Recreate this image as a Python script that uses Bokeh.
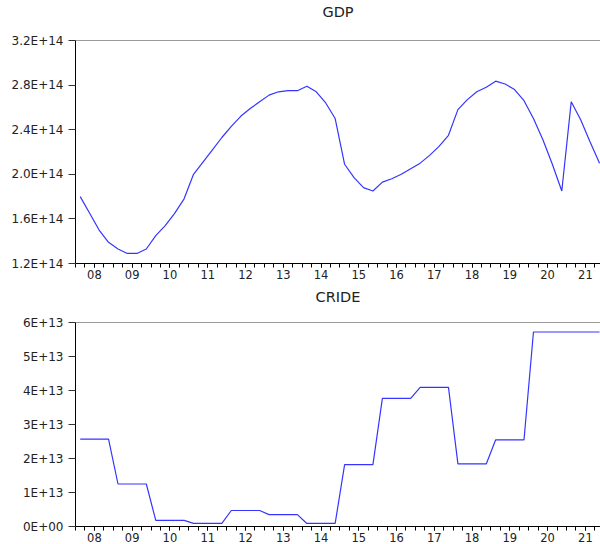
from bokeh.plotting import figure
from bokeh.layouts import column
from bokeh.models import FixedTicker, Range1d, LinearAxis, ColumnDataSource
from bokeh.embed import file_html
from bokeh.resources import INLINE

years = list(range(2008, 2022))
year_labels = ["08", "09", "10", "11", "12", "13", "14", "15", "16", "17", "18", "19", "20", "21"]
quarters = [f"{y}Q{q}" for y in years for q in range(1, 5)]

gdp = [1.80e14, 1.65e14, 1.50e14, 1.39e14, 1.33e14, 1.29e14, 1.29e14, 1.33e14,
       1.45e14, 1.54e14, 1.65e14, 1.78e14, 2.00e14, 2.11e14, 2.22e14, 2.33e14,
       2.43e14, 2.52e14, 2.59e14, 2.65e14, 2.71e14, 2.74e14, 2.75e14, 2.75e14,
       2.79e14, 2.74e14, 2.64e14, 2.50e14, 2.09e14, 1.97e14, 1.88e14, 1.85e14,
       1.93e14, 1.96e14, 2.00e14, 2.05e14, 2.10e14, 2.17e14, 2.25e14, 2.35e14,
       2.58e14, 2.67e14, 2.74e14, 2.78e14, 2.835e14, 2.81e14, 2.76e14, 2.66e14,
       2.50e14, 2.31e14, 2.09e14, 1.85e14, 2.65e14, 2.49e14, 2.29e14, 2.10e14]

cride = [2.57e13, 2.57e13, 2.57e13, 2.57e13, 1.25e13, 1.25e13, 1.25e13, 1.25e13,
         0.18e13, 0.18e13, 0.18e13, 0.18e13, 0.09e13, 0.09e13, 0.09e13, 0.09e13,
         0.47e13, 0.47e13, 0.47e13, 0.47e13, 0.35e13, 0.35e13, 0.35e13, 0.35e13,
         0.09e13, 0.09e13, 0.09e13, 0.09e13, 1.82e13, 1.82e13, 1.82e13, 1.82e13,
         3.77e13, 3.77e13, 3.77e13, 3.77e13, 4.09e13, 4.09e13, 4.09e13, 4.09e13,
         1.84e13, 1.84e13, 1.84e13, 1.84e13, 2.55e13, 2.55e13, 2.55e13, 2.55e13,
         5.72e13, 5.72e13, 5.72e13, 5.72e13, 5.72e13, 5.72e13, 5.72e13, 5.72e13]

gdp_ticks = [1.2e14, 1.6e14, 2.0e14, 2.4e14, 2.8e14, 3.2e14]
gdp_tick_labels = ["1.2E+14", "1.6E+14", "2.0E+14", "2.4E+14", "2.8E+14", "3.2E+14"]
cride_ticks = [0.0, 1e13, 2e13, 3e13, 4e13, 5e13, 6e13]
cride_tick_labels = ["0E+00", "1E+13", "2E+13", "3E+13", "4E+13", "5E+13", "6E+13"]

# time positions (middle of each quarter)
xpos = [int(s[:4]) + (int(s[5]) - 0.5) / 4 for s in quarters]
year_centers = [y + 0.5 for y in years]
quarter_bounds = [y + k / 4 for y in years for k in range(4)]

FONT = "DejaVu Sans"
LINE = "#3535ff"


def make_panel(title, values, yticks, ylabels, ymin, ymax, height, left, top, gap):
    src = ColumnDataSource(dict(x=xpos, v=values, q=quarters))
    p = figure(width=600, height=height, output_backend="svg", toolbar_location=None,
               x_range=Range1d(2008.0, 2021.9), y_range=Range1d(ymin, ymax),
               min_border_left=left, min_border_right=0, min_border_top=top,
               min_border_bottom=0, background_fill_color="white",
               border_fill_color="white")
    p.line("x", "v", source=src, line_color=LINE, line_width=1.2)
    p.grid.visible = False
    p.outline_line_color = None

    p.title.text = title
    p.title.align = "center"
    p.title.text_font = FONT
    p.title.text_font_size = "14.5px"
    p.title.text_font_style = "normal"
    p.title.text_color = "#222222"
    p.title.standoff = 0
    p.title.offset = 1

    xa = p.xaxis[0]
    xa.ticker = FixedTicker(ticks=year_centers, minor_ticks=quarter_bounds)
    xa.major_label_overrides = {c: l for c, l in zip(year_centers, year_labels)}
    xa.major_tick_out = 4
    xa.major_tick_in = 0
    xa.minor_tick_out = 4
    xa.minor_tick_in = 0
    xa.axis_line_color = "black"
    xa.major_tick_line_color = "black"
    xa.minor_tick_line_color = "black"
    xa.major_label_text_font = FONT
    xa.major_label_text_font_size = "11.5px"
    xa.major_label_text_color = "#222222"
    xa.major_label_standoff = 2

    ya = p.yaxis[0]
    ya.ticker = FixedTicker(ticks=yticks, minor_ticks=[])
    ya.major_label_overrides = {t: l for t, l in zip(yticks, ylabels)}
    ya.major_tick_out = 7
    ya.major_tick_in = 0
    ya.minor_tick_out = 0
    ya.axis_line_color = "black"
    ya.major_tick_line_color = "#333333"
    ya.major_label_text_font = FONT
    ya.major_label_text_font_size = "12px"
    ya.major_label_text_color = "#222222"
    ya.major_label_standoff = 5

    # grey top frame line; an invisible blank axis label spaces the title from the frame
    top_axis = LinearAxis(ticker=FixedTicker(ticks=[], minor_ticks=[]),
                          axis_line_color="#9a9a9a", major_tick_out=0, major_tick_in=0,
                          minor_tick_out=0, minor_tick_in=0, major_label_standoff=0,
                          major_tick_line_color=None, minor_tick_line_color=None,
                          major_label_text_font_size="0px",
                          axis_label="\u00a0", axis_label_text_font_size="10px",
                          axis_label_text_alpha=0.0, axis_label_standoff=gap - 12)
    p.add_layout(top_axis, "above")
    return p


p1 = make_panel("GDP", gdp, gdp_ticks, gdp_tick_labels, 1.2e14, 3.2e14, 281, 75, 40, 19)
p2 = make_panel("CRIDE", cride, cride_ticks, cride_tick_labels, 0.0, 6e13, 263, 66, 41, 16)

layout = column(p1, p2)
open("out.html", "w").write(file_html(layout, INLINE))
